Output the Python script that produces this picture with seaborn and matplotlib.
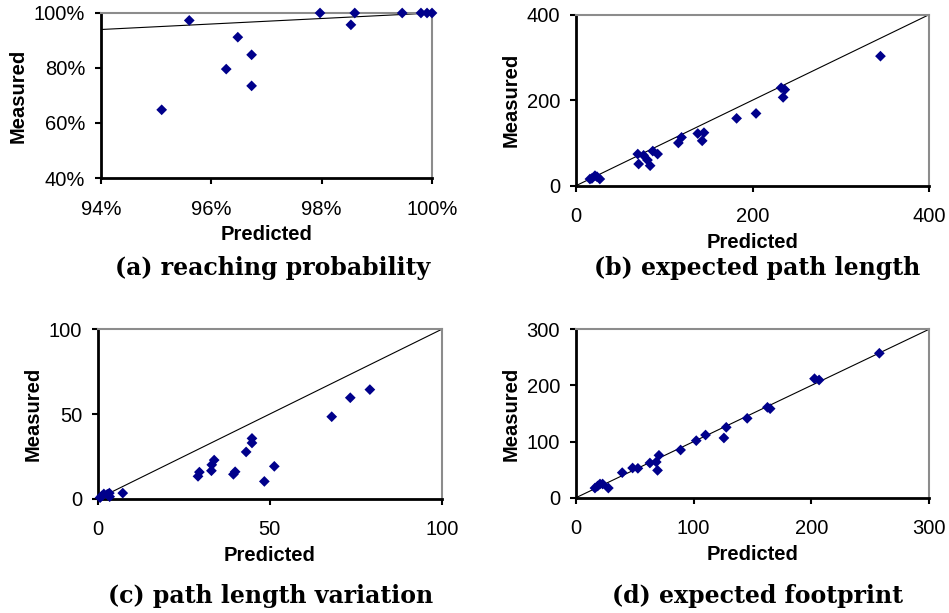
import matplotlib
matplotlib.use("Agg")
import matplotlib.pyplot as plt
import seaborn as sns
import numpy as np
import pandas as pd
from matplotlib.ticker import FuncFormatter

# ---- data ----
a_pred = [95.6, 95.1, 96.27, 96.48, 96.73, 96.73, 97.97, 98.53, 98.6, 99.46, 99.8, 99.91, 100.0]
a_meas = [97.3, 64.8, 79.6, 91.2, 84.8, 73.5, 100.0, 95.7, 100.0, 100.0, 100.0, 100.0, 100.0]

b_pred = [15.8, 18, 21.5, 23.8, 27, 70, 71, 76.6, 81, 84, 87, 92.5, 116, 119.6, 138, 143, 145,
          182, 204, 232.5, 236.6, 234.7, 345]
b_meas = [15.6, 17, 23.4, 21, 15.6, 74, 50.7, 71, 60, 46.8, 81, 74, 100, 113, 122, 105, 124,
          157.5, 169, 229, 224.6, 206.6, 303]

c_pred = [0.6, 1.1, 1.7, 2.7, 3.3, 3.4, 7.2, 29.1, 29.5, 33, 33.1, 33.8, 39.4, 39.9, 43.1,
          44.8, 44.8, 48.4, 51.3, 68, 73.4, 79.1]
c_meas = [0.6, 1.6, 2.8, 2.6, 3.3, 1.2, 3.3, 13.2, 15.7, 16.5, 20, 22.8, 14.4, 15.9, 27.6,
          32.9, 35.6, 10.2, 19.1, 48.4, 59.6, 64.4]

d_pred = [16.1, 18.4, 20.4, 22.6, 27.5, 39.3, 48.1, 52.6, 62.8, 68.2, 69.3, 70.5, 88.9, 102.2,
          110.1, 125.7, 127.7, 145.5, 162.7, 165, 202.7, 206.6, 257.8]
d_meas = [17.2, 20.8, 24.4, 24.4, 17.2, 44.6, 52.9, 52.3, 61.8, 63.6, 48.7, 75.5, 85, 101.6,
          111.7, 106.4, 125.4, 141.4, 161, 158.6, 212, 209.7, 257.3]

captions = ["(a) reaching probability", "(b) expected path length",
            "(c) path length variation", "(d) expected footprint"]
limits = [(94, 100, 40, 100), (0, 400, 0, 400), (0, 100, 0, 100), (0, 300, 0, 300)]
xticks = [[94, 96, 98, 100], [0, 200, 400], [0, 50, 100], [0, 100, 200, 300]]
yticks = [[40, 60, 80, 100], [0, 200, 400], [0, 50, 100], [0, 100, 200, 300]]
percent = [True, False, False, False]

sns.set_theme(style="white")
plt.rcParams['font.family'] = ['Liberation Sans', 'DejaVu Sans']
plt.rcParams['text.color'] = 'black'
plt.rcParams['axes.labelcolor'] = 'black'
plt.rcParams['xtick.color'] = 'black'
plt.rcParams['ytick.color'] = 'black'

fig = plt.figure(figsize=(9.49, 6.13), dpi=100)
positions = [
    [101/949, 1-178/613, 331/949, 165/613],
    [576/949, 1-185.7/613, 353/949, 171/613],
    [98/949, 1-498.7/613, 343.7/949, 169.4/613],
    [576/949, 1-497.7/613, 353/949, 168.4/613],
]
caption_xy = [(273/949, 1-268/613), (757/949, 1-268/613),
              (271/949, 1-596/613), (757/949, 1-596/613)]

datasets = [(a_pred, a_meas), (b_pred, b_meas), (c_pred, c_meas), (d_pred, d_meas)]

for i, ((xp, ym), pos) in enumerate(zip(datasets, positions)):
    ax = fig.add_axes(pos)
    x0, x1, y0, y1 = limits[i]
    lo = max(x0, y0); hi = min(x1, y1)
    ax.plot([lo, hi], [lo, hi], color='black', lw=0.8, zorder=2)
    df = pd.DataFrame({"Predicted": xp, "Measured": ym})
    sns.scatterplot(data=df, x="Predicted", y="Measured", ax=ax, marker='D', s=30,
                    color='#00008B', edgecolor='none', linewidth=0, zorder=3, clip_on=False)
    ax.set_xlim(x0, x1)
    ax.set_ylim(y0, y1)
    ax.set_xticks(xticks[i])
    ax.set_yticks(yticks[i])
    if percent[i]:
        fmt = FuncFormatter(lambda v, p: f"{int(round(v))}%")
        ax.xaxis.set_major_formatter(fmt)
        ax.yaxis.set_major_formatter(fmt)
    ax.set_xlabel("Predicted", fontsize=14.5, fontweight='bold', labelpad=5, color='black')
    ax.set_ylabel("Measured", fontsize=14.5, fontweight='bold', labelpad=4, color='black')
    ax.tick_params(axis='both', which='major', labelsize=14.5, direction='out', length=4.5,
                   width=1.5, color='black', labelcolor='black', bottom=True, left=True)
    ax.tick_params(axis='x', pad=11)
    ax.tick_params(axis='y', pad=7)
    for s in ['left', 'bottom']:
        ax.spines[s].set_color('black')
        ax.spines[s].set_linewidth(2)
    for s in ['top', 'right']:
        ax.spines[s].set_color('#8c8c8c')
        ax.spines[s].set_linewidth(1.5)
    ax.grid(False)
    ax.set_facecolor('white')
    fig.text(caption_xy[i][0], caption_xy[i][1], captions[i],
             ha='center', va='center', fontsize=17, fontweight='bold',
             family=['DejaVu Serif'], color='black')

fig.savefig("out.png", dpi=100, facecolor='white')
